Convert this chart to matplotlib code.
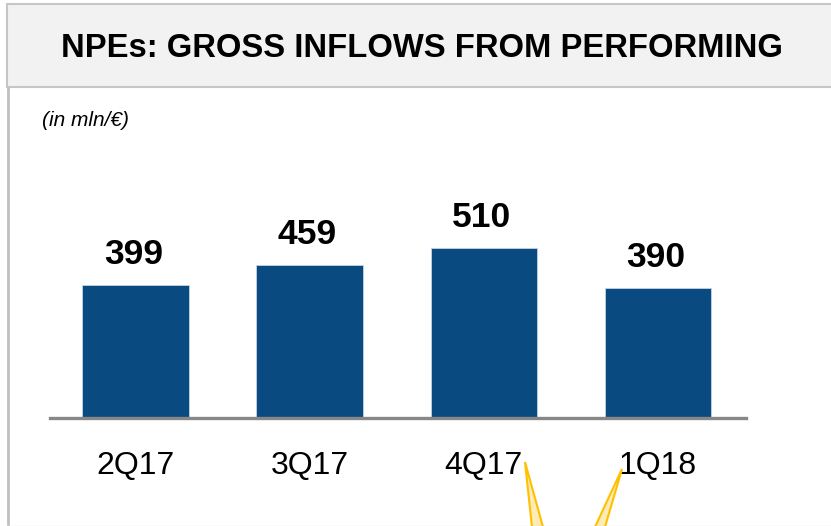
import matplotlib
matplotlib.use("Agg")
import matplotlib.pyplot as plt
from matplotlib.patches import Rectangle, Polygon
from matplotlib.lines import Line2D
from matplotlib.transforms import blended_transform_factory

plt.rcParams['font.family'] = ['Liberation Sans', 'DejaVu Sans']

# data
quarters = ["2Q17", "3Q17", "4Q17", "1Q18"]
inflows = [399, 459, 510, 390]

title = "NPEs: GROSS INFLOWS FROM PERFORMING"
unit_note = "(in mln/€)"

bar_color = "#094a80"
W, H = 831, 526


def fx(px):
    return px / W


def fy(py):
    return 1 - py / H


fig = plt.figure(figsize=(W / 100, H / 100), dpi=100)

# frame: title box + left rule
fig.patches.append(Rectangle((fx(7), fy(87)), fx(840) - fx(7), fy(4) - fy(87),
                             transform=fig.transFigure, facecolor="#f2f2f2",
                             edgecolor="#c6c6c6", lw=1.5, zorder=0))
fig.lines.append(Line2D([fx(7.5), fx(7.5)], [fy(88), fy(530)], transform=fig.transFigure,
                        color="#c0c0c0", lw=2))
fig.lines.append(Line2D([fx(7), fx(831)], [fy(525.5), fy(525.5)], transform=fig.transFigure,
                        color="#efefef", lw=1))

fig.text(fx(422), fy(57), title, ha="center", va="baseline", fontsize=23.6,
         fontweight="bold", color="black")
fig.text(fx(42), fy(126), unit_note, ha="left", va="baseline", fontsize=15,
         fontstyle="italic", color="black")

# bar chart
ax = fig.add_axes([fx(50), fy(418), fx(746) - fx(50), fy(148) - fy(418)])
x = list(range(len(quarters)))
ax.bar(x, inflows, width=0.61, color=bar_color, edgecolor="#c4d5e6", linewidth=0.6, zorder=2)
ax.set_xlim(-0.49, 3.505)
ax.set_ylim(0, 810)
ax.axhline(0, color="#878787", lw=2.4, zorder=3, clip_on=False)

for xi, v in zip(x, inflows):
    ax.annotate(str(v), (xi, v), xytext=(-1.5, 15), textcoords="offset points",
                ha="center", va="baseline", fontsize=25.5, fontweight="bold")

trans = blended_transform_factory(ax.transData, fig.transFigure)
for xi, q in zip(x, quarters):
    ax.text(xi, fy(473.5), q, transform=trans, ha="center", va="baseline", fontsize=23)

ax.axis("off")

# callout pointers
for apex, b1, b2 in [((525, 462), (532, 527), (543, 527)),
                     ((622, 469), (595, 527), (605, 527))]:
    fig.patches.append(Polygon([(fx(apex[0]), fy(apex[1])), (fx(b1[0]), fy(b1[1])),
                                (fx(b2[0]), fy(b2[1]))], closed=True,
                               transform=fig.transFigure, facecolor="#fdebb8",
                               edgecolor="#ffc000", lw=1.5, zorder=5))

fig.savefig("out.png", dpi=100)
